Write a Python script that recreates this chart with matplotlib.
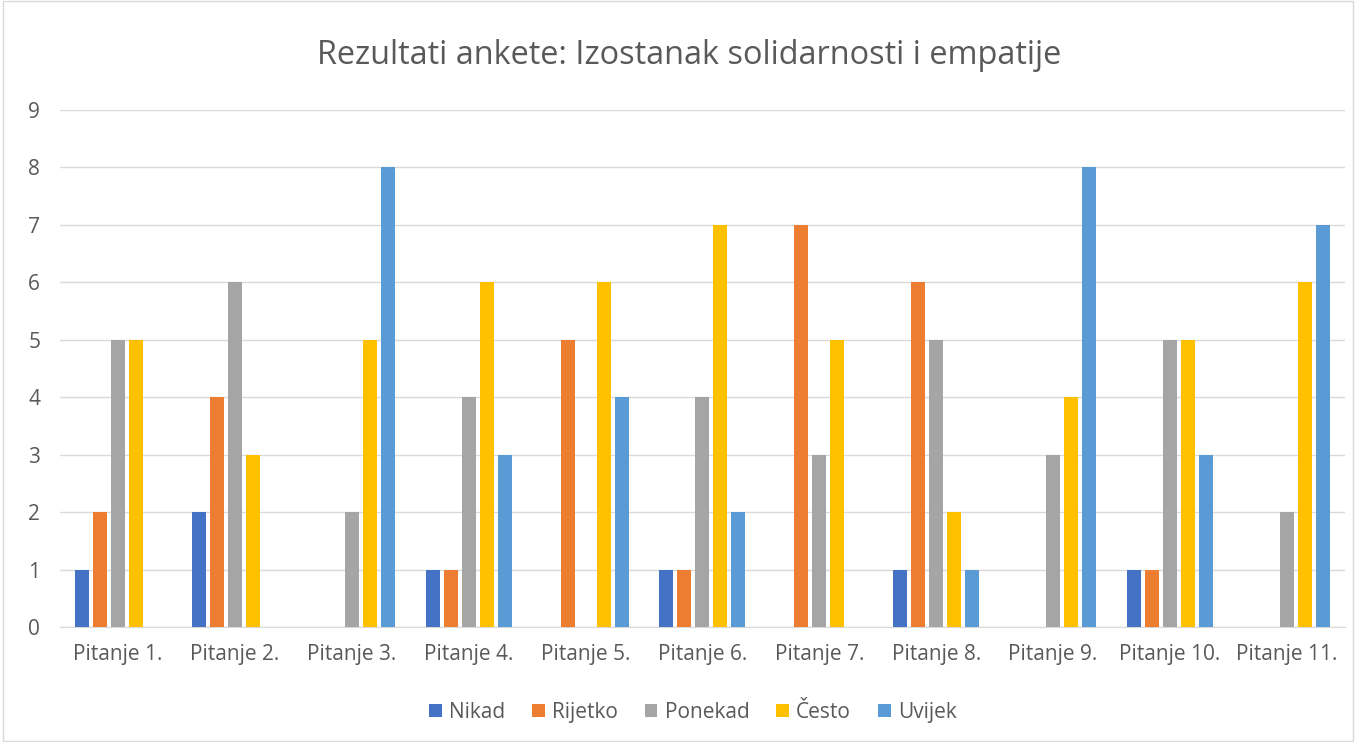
import numpy as np
import matplotlib.pyplot as plt
from matplotlib.patches import Rectangle

# Data
questions = ["Pitanje 1.", "Pitanje 2.", "Pitanje 3.", "Pitanje 4.", "Pitanje 5.",
             "Pitanje 6.", "Pitanje 7.", "Pitanje 8.", "Pitanje 9.", "Pitanje 10.", "Pitanje 11."]
nikad   = [1, 2, 0, 1, 0, 1, 0, 1, 0, 1, 0]
rijetko = [2, 4, 0, 1, 5, 1, 7, 6, 0, 1, 0]
ponekad = [5, 6, 2, 4, 0, 4, 3, 5, 3, 5, 2]
cesto   = [5, 3, 5, 6, 6, 7, 5, 2, 4, 5, 6]
uvijek  = [0, 0, 8, 3, 4, 2, 0, 1, 8, 3, 7]

series = [("Nikad", nikad, "#4472C4"),
          ("Rijetko", rijetko, "#ED7D31"),
          ("Ponekad", ponekad, "#A5A5A5"),
          ("Često", cesto, "#FFC000"),
          ("Uvijek", uvijek, "#5B9BD5")]

plt.rcParams["font.family"] = ["Open Sans", "DejaVu Sans"]
text_color = "#595959"

fig = plt.figure(figsize=(13.56, 7.42), dpi=100)
ax = fig.add_axes([0.044, 0.155, 0.948, 0.697])

x = np.arange(len(questions))
step = 0.154
width = 0.12
for i, (name, vals, color) in enumerate(series):
    ax.bar(x + (i - 2) * step, vals, width, color=color, label=name, zorder=3)

ax.set_xlim(-0.5, len(questions) - 0.5)
ax.set_ylim(0, 9)
ax.set_yticks(range(10))
ax.set_xticks(x)
ax.set_xticklabels(questions)
ax.grid(axis="y", color="#D9D9D9", linewidth=1, zorder=0)
for s in ["top", "right", "left"]:
    ax.spines[s].set_visible(False)
ax.spines["bottom"].set_color("#D9D9D9")
ax.tick_params(axis="both", length=0, labelsize=15, colors=text_color)
ax.tick_params(axis="x", pad=12)
ax.tick_params(axis="y", pad=14)

fig.suptitle("Rezultati ankete: Izostanak solidarnosti i empatije",
             fontsize=23.4, color=text_color, x=0.508, y=0.925, va="center")

fig.legend(loc="center", ncol=5, frameon=False, fontsize=15,
           bbox_to_anchor=(0.511, 0.04), handlelength=0.6, handleheight=0.6,
           columnspacing=1.3, handletextpad=0.35, labelcolor=text_color)

fig.patches.append(Rectangle((0.002, 0.002), 0.996, 0.996, transform=fig.transFigure,
                             fill=False, edgecolor="#D9D9D9", linewidth=1))

fig.savefig("out.png", dpi=100)
